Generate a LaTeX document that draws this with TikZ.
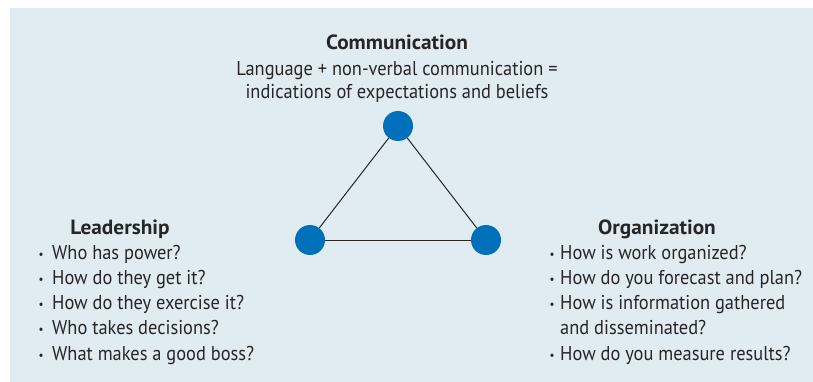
\documentclass[tikz,border=0pt]{standalone}
\usepackage{fontspec}
\setmainfont{PT Sans}[FakeStretch=0.92]
\newfontfamily\ttlfont{PT Sans}[FakeStretch=1.04]
\definecolor{bg}{HTML}{E1EBF2}
\definecolor{dot}{HTML}{0070BA}
\definecolor{ink}{HTML}{262626}
\tikzset{
  txt/.style={inner sep=0pt, text=ink, font=\fontsize{20}{24}\selectfont},
  ttl/.style={txt, font=\ttlfont\fontsize{20.5}{24}\selectfont\bfseries},
  bul/.style={inner sep=0pt, text=ink, font=\fontsize{12}{14}\selectfont},
  hub/.style={circle, fill=dot, minimum size=30pt, inner sep=0pt},
  link/.style={draw=ink, line width=1pt}
}
\begin{document}
\begin{tikzpicture}[x=1pt,y=-1pt]
\useasboundingbox (0,0) rectangle (813,382);
\fill[bg] (10,8) rectangle (813,382);
% hubs
\node[hub] (c) at (398,126) {};
\node[hub] (l) at (310,240) {};
\node[hub] (o) at (486,240) {};
\draw[link] (c) -- (l);
\draw[link] (l) -- (o);
\draw[link] (o) -- (c);
% communication
\node[ttl, anchor=base] (ct) at (397,50) {Communication};
\node[txt, anchor=base] (c1) at (397,76) {Language + non-verbal communication =};
\node[txt, anchor=base] (c2) at (397,99) {indications of expectations and beliefs};
% leadership
\node[ttl, anchor=base] (lt) at (120,234) {Leadership};
\foreach \i/\t in {1/Who has power?,2/How do they get it?,3/How do they exercise it?,4/Who takes decisions?,5/What makes a good boss?}{
  \node[bul, anchor=base] (lb\i) at (41,{259+25.3*(\i-1)-1}) {•};
  \node[txt, anchor=base west] (l\i) at (52,{259+25.3*(\i-1)}) {\t};
}
% organization
\node[ttl, anchor=base] (ot) at (657,234) {Organization};
\foreach \i/\t in {1/How is work organized?,2/How do you forecast and plan?,3/How is information gathered,5/How do you measure results?}{
  \node[bul, anchor=base] (ob\i) at (552,{259+25.3*(\i-1)-1}) {•};
  \node[txt, anchor=base west] (o\i) at (560,{259+25.3*(\i-1)}) {\t};
}
\node[txt, anchor=base west] (o4) at (560,{259+25.3*3}) {and disseminated?};
\end{tikzpicture}
\end{document}
